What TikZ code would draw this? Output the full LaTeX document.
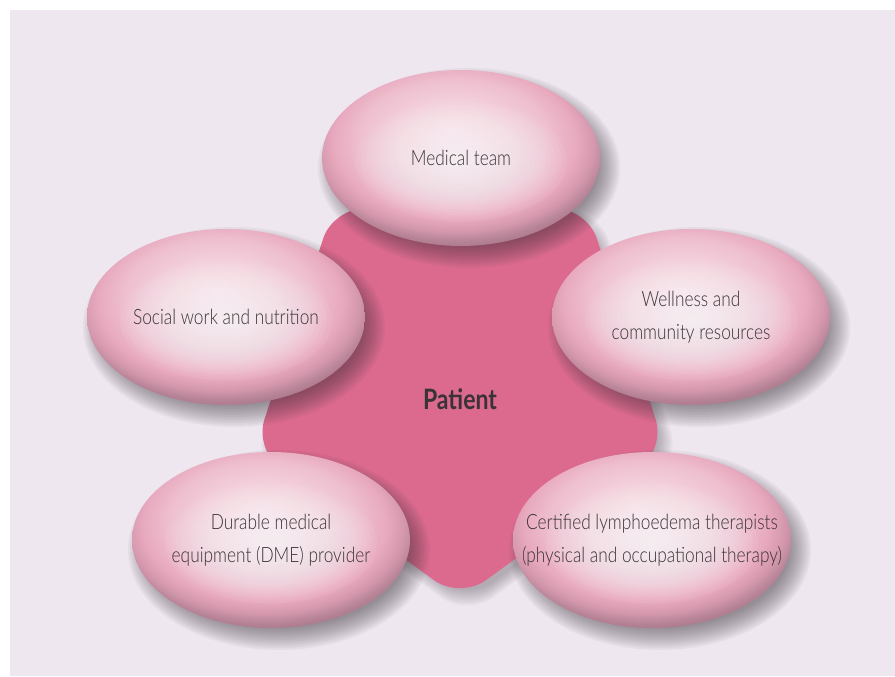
\documentclass[tikz,border=0pt]{standalone}
\usepackage{fontspec}
\setmainfont{Lato}[FakeStretch=0.82]
\newfontfamily\lightface{Lato Light}[FakeStretch=0.82]
\usetikzlibrary{shapes.geometric}

\definecolor{backlilac}{HTML}{EEE7EF}
\definecolor{patientpink}{HTML}{DC6A8F}
\definecolor{bubbletext}{HTML}{3A3236}
\definecolor{shadowgrey}{HTML}{3A3038}
\definecolor{glosstop}{HTML}{F7DCE5}
\definecolor{glosslight}{HTML}{F3CFDB}
\definecolor{glossmid}{HTML}{EEBFCF}
\definecolor{glossrim}{HTML}{E8A9BE}
\definecolor{glosspink}{HTML}{D397AC}
\definecolor{glossdusk}{HTML}{B98598}
\definecolor{glossdark}{HTML}{A07283}

% body of the bubbles: light at the top, dark along the lower rim
\pgfdeclareradialshading{glossy}{\pgfpoint{-2bp}{8bp}}{%
  color(0bp)=(glosstop); color(10bp)=(glosslight); color(17bp)=(glossmid);
  color(22bp)=(glossrim); color(25bp)=(glosspink); color(27bp)=(glossdusk);
  color(30bp)=(glossdark); color(50bp)=(glossdark)}

% pentagon outline, around its own centre
\def\pentapath{(0,175) -- (54:216) -- (-18:216) -- (-90:216) -- (198:216) -- (126:216) -- cycle}

\begin{document}
\begin{tikzpicture}[x=0.02cm, y=0.02cm]

\tikzstyle{bubble}=[ellipse, shading=glossy, minimum width=5.56cm, minimum height=3.52cm,
  inner sep=0pt,
  path picture={\foreach \k in {1,...,20}
    \fill[white, fill opacity=0.06] ([yshift=-2pt]path picture bounding box.center)
      ellipse [x radius=\k*0.106cm, y radius=\k*0.06cm];}]
\tikzstyle{caption}=[align=center, text=bubbletext, font=\lightface\fontsize{12}{18.5}\selectfont]

% page and backdrop
\useasboundingbox (0,0) rectangle (895,676);
\fill[white] (0,0) rectangle (895,676);
\fill[backlilac] (10,0) rectangle (895,666);

% pentagon behind the bubbles, with a soft shadow
\coordinate (pc) at (460,293);
\foreach \k in {0,...,9}
  \fill[shadowgrey, fill opacity=0.035, shift={(pc)}, xshift=4pt, yshift=-5pt,
    scale=1.04-\k*0.008, rounded corners=18] \pentapath;
\fill[patientpink, shift={(pc)}, rounded corners=18] \pentapath;

\node[text=bubbletext, font=\fontsize{16}{18}\selectfont\bfseries] (patient) at (460,277) {Patient};

% shadows of the bubbles
\foreach \cx/\cy in {461/518, 226/359, 691/359, 271/136, 652/136}
  \foreach \k in {0,...,11}
    \fill[shadowgrey, fill opacity=0.05] (\cx+8,\cy-10)
      ellipse [x radius=151-\k*2, y radius=100-\k*2];

% bubbles
\node[bubble] (medical) at (461,518) {};
\node[bubble] (social) at (226,359) {};
\node[bubble] (wellness) at (691,359) {};
\node[bubble] (dme) at (271,136) {};
\node[bubble] (therapy) at (652,136) {};

% their texts
\node[caption] (medical text) at (medical) {Medical team};
\node[caption] (social text) at (social) {Social work and nutrition};
\node[caption] (wellness text) at (wellness) {Wellness and\\community resources};
\node[caption] (dme text) at (dme) {Durable medical\\equipment (DME) provider};
\node[caption] (therapy text) at (therapy) {Certified lymphoedema therapists\\(physical and occupational therapy)};

\end{tikzpicture}
\end{document}
